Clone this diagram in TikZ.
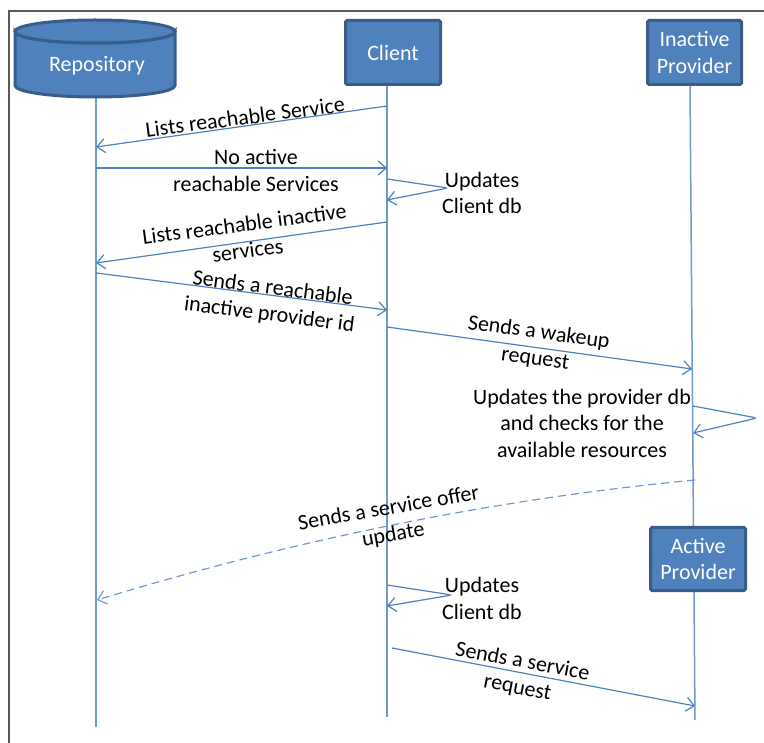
\documentclass[tikz,border=0pt]{standalone}
\usepackage{fontspec}
\setmainfont{Carlito}
\usetikzlibrary{arrows.meta}

\definecolor{boxfill}{HTML}{4F81BD}
\definecolor{boxborder}{HTML}{385D8A}
\definecolor{lifeblue}{HTML}{7099D0}
\definecolor{msgblue}{HTML}{4F81BD}
\definecolor{framegray}{HTML}{595959}

\tikzset{
  actor/.style={rectangle, draw=boxborder, fill=boxfill, line width=3pt,
    rounded corners=1.5pt, text=white, align=center,
    font=\fontsize{22}{26.5}\selectfont, inner sep=0pt},
  lifeline/.style={draw=lifeblue, line width=1.5pt},
  msg/.style={draw=msgblue, line width=1.2pt,
    -{Straight Barb[length=8pt,width=14pt,line width=1.2pt]}},
  reply/.style={msg, draw=lifeblue, dash pattern=on 8pt off 5pt},
  selfloop/.style={msg, rounded corners=3pt},
  lbl/.style={align=center, text=black, inner sep=0pt,
    font=\fontsize{22}{26.5}\selectfont},
}

\begin{document}
\begin{tikzpicture}[x=1pt, y=-1pt]
  \useasboundingbox (0,0) rectangle (764,743);

  % frame (top and left edges)
  \draw[framegray, line width=1.5pt] (9,743) -- (9,11) -- (764,11);

  % lifelines
  \coordinate (repoTop) at (96,97);
  \coordinate (repoBot) at (96,727);
  \coordinate (cliTop)  at (387,86);
  \coordinate (cliBot)  at (387,717);
  \coordinate (provTop) at (690,86);
  \coordinate (provBot) at (695,720);
  \draw[lifeline] (repoTop) -- (repoBot);
  \draw[lifeline] (cliTop) -- (cliBot);
  \draw[lifeline] (provTop) -- (provBot);

  % repository drawn as a cylinder
  \filldraw[fill=boxfill, draw=boxborder, line width=3pt]
    (15,31.5) -- (15,85.5)
    arc[start angle=180, end angle=0, x radius=80, y radius=11.5]
    -- (175,31.5) arc[start angle=0, end angle=180, x radius=80, y radius=11.5] -- cycle;
  \filldraw[fill=boxfill, draw=boxborder, line width=3pt]
    (95,31.5) ellipse [x radius=80, y radius=11.5];
  \node[lbl, text=white] (repo) at (97,66) {Repository};

  % participants
  \node[actor, minimum width=95pt, minimum height=64pt] (client) at (393,52.5) {Client};
  \node[actor, minimum width=94pt, minimum height=64pt] (inprov) at (694.5,52.5) {Inactive\\Provider};
  \node[actor, minimum width=95pt, minimum height=63pt] (acprov) at (698,559) {Active\\Provider};

  % message end points
  \coordinate (m1a) at (387,106);  \coordinate (m1b) at (96,147);
  \coordinate (m2a) at (96,168);   \coordinate (m2b) at (387,168);
  \coordinate (s1a) at (387,179);  \coordinate (s1t) at (448,188);  \coordinate (s1b) at (387,200);
  \coordinate (m3a) at (387,222);  \coordinate (m3b) at (96,263);
  \coordinate (m4a) at (96,273);   \coordinate (m4b) at (387,310);
  \coordinate (m5a) at (387,327);  \coordinate (m5b) at (692,369);
  \coordinate (s2a) at (693,406);  \coordinate (s2t) at (757,418);  \coordinate (s2b) at (693,433);
  \coordinate (m6a) at (695,480);  \coordinate (m6b) at (97,600);
  \coordinate (s3a) at (387,585);  \coordinate (s3t) at (452,595);  \coordinate (s3b) at (387,606);
  \coordinate (m7a) at (392,648);  \coordinate (m7b) at (695,706);

  % messages
  \draw[msg] (m1a) -- (m1b);
  \draw[msg] (m2a) -- (m2b);
  \draw[selfloop] (s1a) -- (s1t) -- (s1b);
  \draw[msg] (m3a) -- (m3b);
  \draw[msg] (m4a) -- (m4b);
  \draw[msg] (m5a) -- (m5b);
  \draw[selfloop] (s2a) -- (s2t) -- (s2b);
  \draw[reply] (m6a) .. controls (496,499) and (297,539) .. (m6b);
  \draw[selfloop] (s3a) -- (s3t) -- (s3b);
  \draw[msg] (m7a) -- (m7b);

  % message labels
  \node[lbl, rotate=7.5] (l1) at (245,117) {Lists reachable Service};
  \node[lbl] (l2) at (256,170.5) {No active\\reachable Services};
  \node[lbl] (l3) at (482,193) {Updates\\Client db};
  \node[lbl, rotate=7.5] (l4) at (246,237) {Lists reachable inactive\\services};
  \node[lbl, rotate=-7.2] (l5) at (271,302) {Sends a reachable\\inactive provider id};
  \node[lbl, rotate=-7.8] (l6) at (537,346) {Sends a wakeup\\request};
  \node[lbl] (l7) at (582,423) {Updates the provider db\\and checks for the\\available resources};
  \node[lbl, rotate=10] (l8) at (391,522) {Sends a service offer\\update};
  \node[lbl] (l9) at (482,598.5) {Updates\\Client db};
  \node[lbl, rotate=-10.7] (l10) at (520,675) {Sends a service\\request};
\end{tikzpicture}
\end{document}
